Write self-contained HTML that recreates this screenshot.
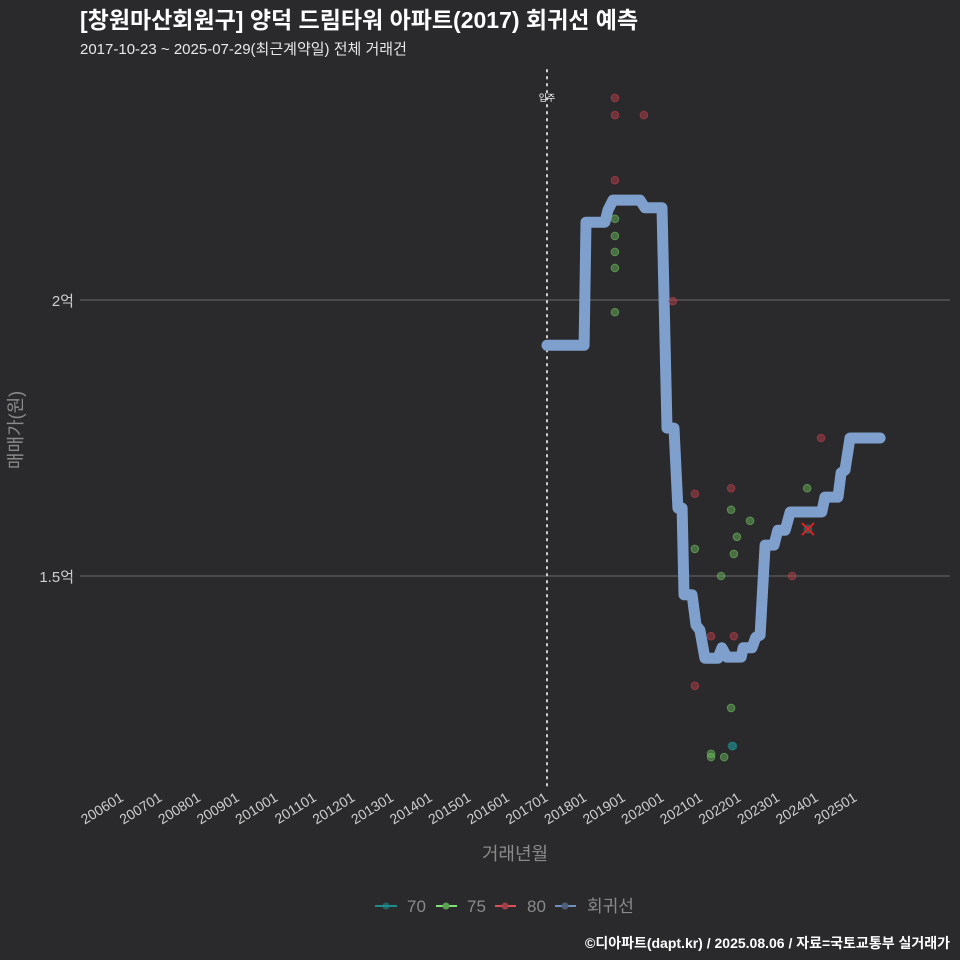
<!DOCTYPE html>
<html><head><meta charset="utf-8">
<style>
body{margin:0;background:#2a2a2c;}
svg{display:block;font-family:"Liberation Sans","Noto Sans CJK KR",sans-serif;}
</style></head>
<body>
<svg id="chart" width="960" height="960" viewBox="0 0 960 960">
<rect width="960" height="960" fill="#2a2a2c"/>
<text x="80" y="28" font-size="23" font-weight="bold" fill="#ffffff">[창원마산회원구] 양덕 드림타워 아파트(2017) 회귀선 예측</text>
<text x="80" y="54" font-size="15" fill="#e8e8e8">2017-10-23 ~ 2025-07-29(최근계약일) 전체 거래건</text>
<g id="grid"></g>
<g id="xaxis"></g>
<g id="marks"></g>
<text x="515" y="860" font-size="18" fill="#8a8a8a" text-anchor="middle">거래년월</text>
<text transform="translate(22,430) rotate(-90)" font-size="18" fill="#8a8a8a" text-anchor="middle">매매가(원)</text>
<g>
 <g><line x1="375" y1="906" x2="397" y2="906" stroke="#1f8a8a" stroke-width="2"/><circle cx="386" cy="906" r="3.5" fill="#1f8a8a" opacity="0.6"/><text x="407" y="912" font-size="17" fill="#8a8a8a">70</text></g>
 <g><line x1="436" y1="906" x2="457" y2="906" stroke="#7fe07a" stroke-width="2"/><circle cx="446" cy="906" r="3.5" fill="#5aa050"/><text x="467" y="912" font-size="17" fill="#8a8a8a">75</text></g>
 <g><line x1="495" y1="906" x2="516" y2="906" stroke="#e0505a" stroke-width="2"/><circle cx="505" cy="906" r="3.5" fill="#a04048"/><text x="527" y="912" font-size="17" fill="#8a8a8a">80</text></g>
 <g><line x1="555" y1="906" x2="576" y2="906" stroke="#6f8fc0" stroke-width="2"/><circle cx="565" cy="906" r="3.5" fill="#50607a"/><text x="587" y="912" font-size="17" fill="#8a8a8a">회귀선</text></g>
</g>
<text x="950" y="948" font-size="14" font-weight="bold" fill="#ffffff" text-anchor="end">©디아파트(dapt.kr) / 2025.08.06 / 자료=국토교통부 실거래가</text>
</svg>
<script>
const xTickLabels=["200601","200701","200801","200901","201001","201101","201201","201301","201401","201501","201601","201701","201801","201901","202001","202101","202201","202301","202401","202501"];
const yTickValues=[1.5,2];
const yTickLabels=["1.5억","2억"];
const lineT=[2017.00,2017.96,2018.01,2018.50,2018.58,2018.71,2019.41,2019.54,2019.98,2020.11,2020.29,2020.39,2020.50,2020.55,2020.76,2020.86,2020.96,2021.09,2021.43,2021.53,2021.66,2022.03,2022.08,2022.31,2022.41,2022.52,2022.65,2022.88,2022.98,2023.17,2023.30,2024.12,2024.20,2024.54,2024.62,2024.72,2024.85,2025.63];
const lineV=[1.918,1.918,2.141,2.141,2.163,2.181,2.181,2.167,2.167,1.768,1.768,1.623,1.623,1.466,1.466,1.411,1.402,1.351,1.351,1.370,1.353,1.353,1.370,1.370,1.389,1.393,1.556,1.556,1.583,1.583,1.616,1.616,1.643,1.643,1.687,1.692,1.750,1.750];
const t80=[2018.76,2018.76,2019.51,2018.76,2020.26,2020.83,2021.77,2021.25,2021.84,2020.83,2023.35,2024.10];
const v80=[2.366,2.335,2.335,2.217,1.998,1.649,1.659,1.391,1.391,1.301,1.5,1.75];
const t75=[2018.76,2018.76,2018.76,2018.76,2018.76,2020.83,2021.77,2022.26,2021.92,2021.84,2021.51,2023.74,2021.25,2021.25,2021.77,2021.59];
const v75=[2.147,2.116,2.087,2.058,1.978,1.549,1.620,1.600,1.571,1.540,1.500,1.659,1.178,1.172,1.261,1.172];
const t70=[2021.79,2021.82,2023.76];
const v70=[1.192,1.192,1.585];
const moveIn=2017.0;
const NS="http://www.w3.org/2000/svg";
function X(t){return 547+(t-2017)*38.6;}
function Y(v){return 300+(2-v)*552;}
function mk(tag,at,parent){const e=document.createElementNS(NS,tag);for(const k in at)e.setAttribute(k,at[k]);parent.appendChild(e);return e;}
const grid=document.getElementById('grid'),xa=document.getElementById('xaxis'),marks=document.getElementById('marks');
yTickValues.forEach((v,i)=>{
 const l=mk('line',{x1:80,x2:950,y1:Y(v),y2:Y(v),stroke:'#6a6a6a','stroke-width':1},grid);
 
 
 const t=mk('text',{x:74,y:Y(v)+6,'font-size':15,fill:'#cfcfcf','text-anchor':'end'},grid);
 t.textContent=yTickLabels[i];
 
 
});
xTickLabels.forEach(s=>{
 const t0=+s.slice(0,4)+(+s.slice(4)-1)/12;
 const x=X(t0)+2;
 const t=mk('text',{x:x,y:800,'font-size':14,fill:'#cfcfcf','text-anchor':'end',transform:`rotate(-32 ${x} 800)`},xa);
 t.textContent=s;
 
 
});
const vl=mk('line',{x1:X(moveIn),x2:X(moveIn),y1:70,y2:790,stroke:'#d0d0d0','stroke-width':2,'stroke-dasharray':'1.5 5.5','stroke-linecap':'round'},marks);


const vt=mk('text',{x:X(moveIn),y:101,'font-size':9,fill:'#ffffff','text-anchor':'middle'},marks);
vt.textContent='입주';


const pts=lineT.map((t,i)=>X(t).toFixed(1)+','+Y(lineV[i]).toFixed(1)).join(' ');
const pl=mk('polyline',{points:pts,fill:'none',stroke:'#7f9fcc','stroke-width':11,'stroke-linejoin':'round','stroke-linecap':'round'},marks);


function dots(ts,vs,fill,name){ts.forEach((t,i)=>{
 const c=mk('circle',{cx:X(t),cy:Y(vs[i]),r:3.8,fill:fill,'fill-opacity':0.45,stroke:fill,'stroke-opacity':0.6},marks);
 
 
});}
dots(t80,v80,'#c0404c','point-80');
dots(t75,v75,'#6fbf60','point-75');
dots(t70,v70,'#1f8a8a','point-70');
const lx=X(t70[2]),ly=Y(v70[2]);
const xm=mk('path',{d:`M${lx-6},${ly-6}L${lx+6},${ly+6}M${lx+6},${ly-6}L${lx-6},${ly+6}`,stroke:'#e02020','stroke-width':2},marks);


</script>
</body></html>
